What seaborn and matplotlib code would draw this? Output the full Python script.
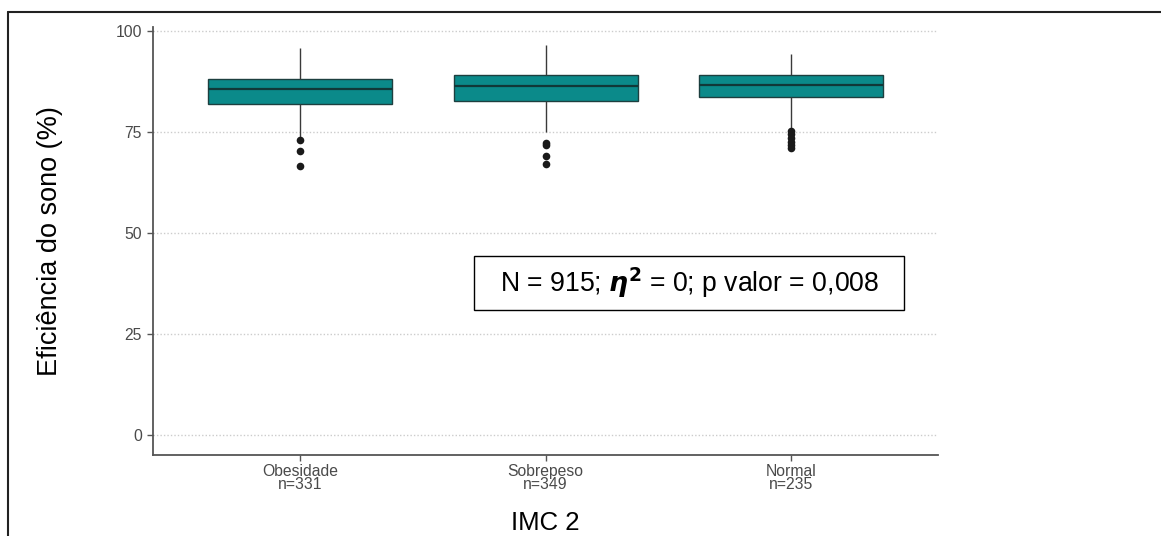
import matplotlib
matplotlib.use("Agg")
import matplotlib.pyplot as plt
from matplotlib.lines import Line2D
from matplotlib.patches import Rectangle
import seaborn as sns
import pandas as pd

# ---- data ----
categories = ["Obesidade", "Sobrepeso", "Normal"]
n_counts = [331, 349, 235]
# five-number summaries: lower whisker, Q1, median, Q3, upper whisker
whisker_low = [73.6, 74.9, 75.6]
q1 = [82.0, 82.8, 83.6]
median = [85.7, 86.4, 86.7]
q3 = [88.1, 89.1, 89.1]
whisker_high = [95.8, 96.5, 94.3]
outliers = {
    "Obesidade": [73.0, 70.3, 66.6],
    "Sobrepeso": [72.4, 71.8, 69.0, 67.0],
    "Normal": [75.2, 74.5, 73.6, 72.6, 71.7, 71.0],
}
y_ticks = [0, 25, 50, 75, 100]
x_title = "IMC 2"
y_title = "Eficiência do sono (%)"
annotation = r"N = 915; $\boldsymbol{\eta}^{\mathbf{2}}$ = 0; p valor = 0,008"

tick_labels = [f"{c}\nn={n}" for c, n in zip(categories, n_counts)]

rows = []
for i, c in enumerate(categories):
    for v in (whisker_low[i], q1[i], median[i], q3[i], whisker_high[i]):
        rows.append({"grupo": c, "valor": v})
box_df = pd.DataFrame(rows)
out_df = pd.DataFrame([{"grupo": c, "valor": v} for c in categories for v in outliers[c]])

sns.set_theme(style="white")
plt.rcParams["font.family"] = ["Liberation Sans", "DejaVu Sans"]

fig = plt.figure(figsize=(11.61, 5.36), dpi=100)
ax = fig.add_axes([0.1318, 0.151, 0.808 - 0.1318, 0.9496 - 0.151])

for y in y_ticks:
    ax.axhline(y, color="#cccccc", lw=1.0, ls=(0, (1, 1.5)), zorder=0)

teal = "#0b8a8a"
edge = "#1d3f3f"
sns.boxplot(data=box_df, x="grupo", y="valor", order=categories, ax=ax,
            width=0.75, whis=(0, 100), color=teal, saturation=1,
            linecolor=edge, linewidth=1.0, showfliers=False,
            medianprops=dict(color="#113838", linewidth=1.6),
            whiskerprops=dict(color="#3a3a3a", linewidth=1.0),
            capprops=dict(linewidth=0))
sns.stripplot(data=out_df, x="grupo", y="valor", order=categories, ax=ax,
              jitter=False, color="#1a1a1a", size=5.5, zorder=5)

ax.set_xlim(-0.6, 2.6)
ax.set_ylim(-5, 101)
ax.set_yticks(y_ticks)
ax.set_yticklabels([str(t) for t in y_ticks])
ax.set_xticks(range(len(categories)))
ax.set_xticklabels(tick_labels, linespacing=0.85)

for s in ["top", "right"]:
    ax.spines[s].set_visible(False)
for s in ["left", "bottom"]:
    ax.spines[s].set_color("#555555")
    ax.spines[s].set_linewidth(1.3)

ax.tick_params(axis="both", which="major", length=4, width=1.0, color="#555555",
               labelsize=11.3, labelcolor="#4a4a4a", direction="out",
               left=True, bottom=True)
ax.tick_params(axis="x", pad=2.5)
ax.tick_params(axis="y", pad=4)

ax.set_xlabel(x_title, fontsize=18.5, color="black")
ax.set_ylabel(y_title, fontsize=19.5, color="black")
ax.xaxis.set_label_coords(0.5, -0.159)
ax.xaxis.label.set_va("center")
ax.yaxis.set_label_coords(-0.131, 0.5)
ax.yaxis.label.set_va("center")

ax.add_patch(Rectangle((0.409, 0.3388), 0.548, 0.126, transform=ax.transAxes,
                       facecolor="white", edgecolor="black", linewidth=1.0,
                       zorder=9))
ax.text(0.683, 0.402, annotation, transform=ax.transAxes, fontsize=19.2,
        ha="center", va="center", color="black", zorder=10)

# outer frame lines (top and left) of the reference image
fig.add_artist(Line2D([0.0073, 1.0], [0.9776, 0.9776], transform=fig.transFigure,
                      color="#222222", lw=1.5))
fig.add_artist(Line2D([0.0073, 0.0073], [0.0, 0.9776], transform=fig.transFigure,
                      color="#222222", lw=1.5))

fig.savefig("out.png", dpi=100, facecolor="white")
